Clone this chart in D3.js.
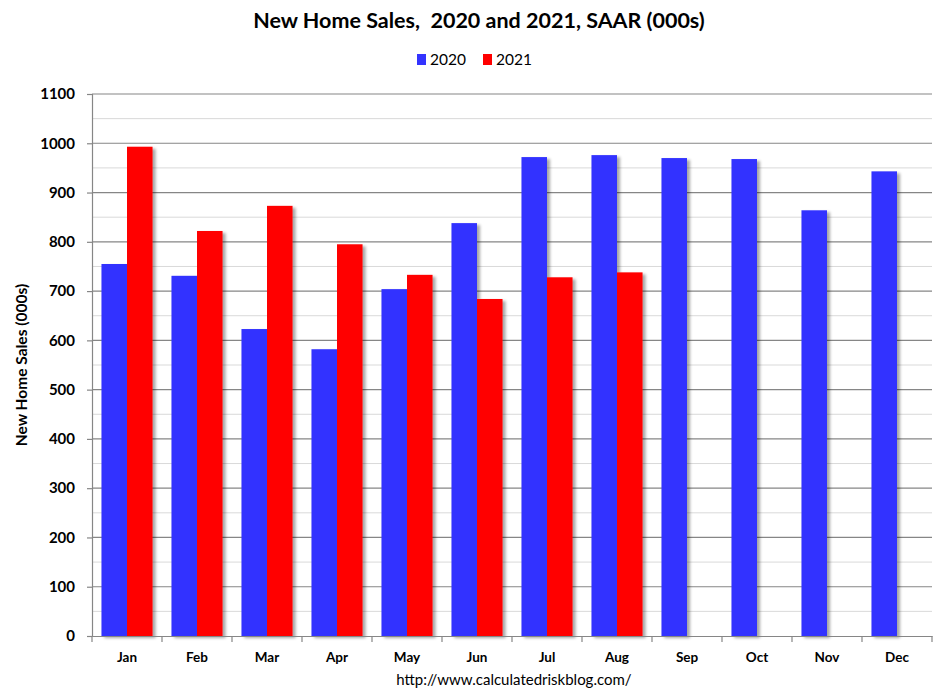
<!DOCTYPE html>
<html><head><meta charset="utf-8">
<script src="https://cdn.jsdelivr.net/npm/d3@7"></script>
<style>body{margin:0;background:#fff}svg{display:block}</style>
</head><body>
<svg id="c" width="939" height="697"></svg>
<script>
const months = ["Jan","Feb","Mar","Apr","May","Jun","Jul","Aug","Sep","Oct","Nov","Dec"];
const sales2020 = [755,731,623,582,704,838,972,976,970,968,864,943];
const sales2021 = [993,822,873,795,733,684,728,738];
const seriesNames = ["2020","2021"];
const seriesColors = ["#3333FF","#FF0000"];
const yTicks = [0,100,200,300,400,500,600,700,800,900,1000,1100];

const svg = d3.select("#c");
const font = "Lato, 'Open Sans', sans-serif";
const L = 92, R = 932, T = 94, B = 636;

const defs = svg.append("defs");
const f = defs.append("filter").attr("id","sh").attr("x","-20%").attr("y","-5%").attr("width","150%").attr("height","115%");
f.append("feDropShadow").attr("dx",3).attr("dy",2).attr("stdDeviation",1.6).attr("flood-color","#000").attr("flood-opacity",0.35);

const x = d3.scaleBand().domain(months).range([L,R]).paddingInner(0).paddingOuter(0);
const x1 = d3.scaleBand().domain(seriesNames).range([0,x.bandwidth()]).paddingInner(0).paddingOuter(0.37);
const y = d3.scaleLinear().domain([0,1100]).range([B,T]);

// minor gridlines
const minor = d3.range(50,1100,100);
svg.append("g").selectAll("line").data(minor).join("line")
  .attr("x1",L).attr("x2",R).attr("y1",d=>y(d)).attr("y2",d=>y(d))
  .attr("stroke","#d9d9d9").attr("stroke-width",1);
// major gridlines
svg.append("g").selectAll("line").data(yTicks.slice(1)).join("line")
  .attr("x1",L).attr("x2",R).attr("y1",d=>y(d)).attr("y2",d=>y(d))
  .attr("stroke","#868686").attr("stroke-width",1.2);

// bars
const data = [];
months.forEach((m,i)=>{
  data.push({m, s:"2020", v:sales2020[i]});
  if (i < sales2021.length) data.push({m, s:"2021", v:sales2021[i]});
});
svg.append("g").attr("filter","url(#sh)").selectAll("rect").data(data).join("rect")
  .attr("x",d=>x(d.m)+x1(d.s)).attr("width",x1.bandwidth())
  .attr("y",d=>y(d.v)).attr("height",d=>B-y(d.v))
  .attr("fill",d=>seriesColors[seriesNames.indexOf(d.s)]);

// y axis
const ya = svg.append("g").attr("transform",`translate(${L},0)`)
  .call(d3.axisLeft(y).tickValues(yTicks).tickFormat(d3.format("d")).tickSize(5).tickPadding(12));
ya.select(".domain").attr("stroke","#868686").attr("stroke-width",1.2);
ya.selectAll(".tick line").attr("stroke","#868686").attr("stroke-width",1.2);
ya.selectAll("text").attr("font-family",font).attr("font-weight","bold").attr("font-size",15).attr("fill","#000");

// x axis
const xa = svg.append("g").attr("transform",`translate(0,${B})`)
  .call(d3.axisBottom(x).tickSize(0).tickPadding(16));
xa.select(".domain").attr("stroke","#868686").attr("stroke-width",1.2);
xa.selectAll("text").attr("font-family",font).attr("font-weight","bold").attr("font-size",13.5).attr("fill","#000");
svg.append("g").selectAll("line").data(d3.range(0,13)).join("line")
  .attr("x1",i=>L+i*x.step()).attr("x2",i=>L+i*x.step())
  .attr("y1",B).attr("y2",B+6).attr("stroke","#868686").attr("stroke-width",1.2);

// title
svg.append("text").attr("x",479).attr("y",28).attr("text-anchor","middle")
  .attr("font-family",font).attr("font-weight","bold").attr("font-size",21.5)
  .attr("xml:space","preserve").text("New Home Sales,  2020 and 2021, SAAR (000s)");

// legend
const lg = svg.append("g");
const legX = [417, 483];
seriesNames.forEach((s,i)=>{
  lg.append("rect").attr("x",legX[i]).attr("y",54).attr("width",9).attr("height",11).attr("fill",seriesColors[i]);
  lg.append("text").attr("x",legX[i]+13).attr("y",65).attr("font-family",font).attr("font-size",15.5).text(s);
});

// y title
svg.append("text").attr("transform","translate(27,365) rotate(-90)").attr("text-anchor","middle")
  .attr("font-family",font).attr("font-weight","bold").attr("font-size",15.5).text("New Home Sales (000s)");

// footer
svg.append("text").attr("x",514).attr("y",685).attr("text-anchor","middle")
  .attr("font-family",font).attr("font-size",15).text("http://www.calculatedriskblog.com/");
</script>
</body></html>
